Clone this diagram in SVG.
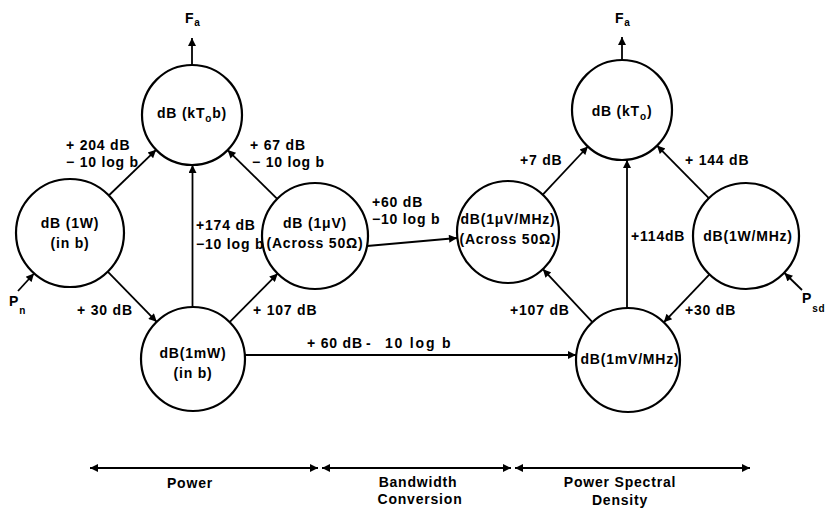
<svg xmlns="http://www.w3.org/2000/svg" width="829" height="509" viewBox="0 0 829 509">
<style>
text{font-family:"Liberation Sans",Arial,sans-serif;font-weight:bold;font-size:14px;letter-spacing:0.8px;fill:#000}
.c{text-anchor:middle}
.n circle{fill:#fff;stroke:#000;stroke-width:2.2}
.e line{stroke:#000;stroke-width:1.8;fill:none}
.ax{stroke-width:2.2}
.sub{font-size:10px}
</style>
<defs>
<marker id="ah" viewBox="0 0 10 10" refX="10" refY="5" markerWidth="10" markerHeight="8" markerUnits="userSpaceOnUse" orient="auto-start-reverse">
<path d="M0,0 L10,5 L0,10 z" fill="#000"/>
</marker>
</defs>
<g id="connectors" class="e">
<line x1="108.8" y1="195.5" x2="156.1" y2="149.8" marker-end="url(#ah)"/>
<line x1="277.2" y1="198.8" x2="227.6" y2="150.1" marker-end="url(#ah)"/>
<line x1="192.5" y1="307" x2="192.5" y2="165" marker-end="url(#ah)"/>
<line x1="107.7" y1="271.7" x2="156.7" y2="321.8" marker-end="url(#ah)"/>
<line x1="229.6" y1="322.1" x2="277.7" y2="273.6" marker-end="url(#ah)"/>
<line x1="18" y1="291" x2="34" y2="273.5" marker-end="url(#ah)"/>
<line x1="192" y1="65" x2="192" y2="38" marker-end="url(#ah)"/>
<line x1="367" y1="246" x2="457" y2="238" marker-end="url(#ah)"/>
<line x1="245" y1="355" x2="576" y2="355" marker-end="url(#ah)"/>
<line x1="542.8" y1="194.7" x2="587.9" y2="146.5" marker-end="url(#ah)"/>
<line x1="708.8" y1="198.2" x2="657" y2="145.6" marker-end="url(#ah)"/>
<line x1="627" y1="308" x2="627" y2="160" marker-end="url(#ah)"/>
<line x1="592.4" y1="322.1" x2="542.9" y2="269.2" marker-end="url(#ah)"/>
<line x1="709.5" y1="274.4" x2="663.8" y2="322.3" marker-end="url(#ah)"/>
<line x1="802" y1="290" x2="784.5" y2="273" marker-end="url(#ah)"/>
<line x1="622" y1="60" x2="622" y2="37" marker-end="url(#ah)"/>
<line class="ax" x1="90" y1="468" x2="318" y2="468" marker-start="url(#ah)" marker-end="url(#ah)"/>
<line class="ax" x1="322" y1="468" x2="511" y2="468" marker-start="url(#ah)" marker-end="url(#ah)"/>
<line class="ax" x1="515" y1="468" x2="750" y2="468" marker-start="url(#ah)" marker-end="url(#ah)"/>
</g>
<g id="n-kT0b" class="n"><circle cx="192" cy="115" r="50"/><text class="c" x="192" y="118">dB (kT<tspan class="sub" dy="4">o</tspan><tspan dy="-4">b)</tspan></text></g>
<g id="n-1W" class="n"><circle cx="70" cy="233" r="54"/><text class="c" x="70" y="228">dB (1W)</text><text class="c" x="70" y="248">(in b)</text></g>
<g id="n-1uV" class="n"><circle cx="315" cy="236" r="53"/><text class="c" x="315" y="228">dB (1μV)</text><text class="c" x="315" y="248">(Across 50Ω)</text></g>
<g id="n-1mW" class="n"><circle cx="193" cy="359" r="52"/><text class="c" x="193" y="358">dB(1mW)</text><text class="c" x="193" y="378">(in b)</text></g>
<g id="n-kT0" class="n"><circle cx="622" cy="110" r="50"/><text class="c" x="622" y="116">dB (kT<tspan class="sub" dy="4">o</tspan><tspan dy="-4">)</tspan></text></g>
<g id="n-1uVMHz" class="n"><circle cx="508" cy="232" r="51"/><text class="c" x="508" y="224">dB(1μV/MHz)</text><text class="c" x="508" y="244">(Across 50Ω)</text></g>
<g id="n-1WMHz" class="n"><circle cx="746" cy="236" r="53"/><text class="c" x="748" y="241">dB(1W/MHz)</text></g>
<g id="n-1mVMHz" class="n"><circle cx="628" cy="360" r="52"/><text class="c" x="630" y="364">dB(1mV/MHz)</text></g>
<g id="labels">
<text x="185" y="23">F<tspan class="sub" dy="3">a</tspan></text>
<text x="615" y="23">F<tspan class="sub" dy="3">a</tspan></text>
<text x="66" y="150">+ 204 dB</text><text x="66" y="167">− 10 log b</text>
<text x="250" y="150">+ 67 dB</text><text x="252" y="167">− 10 log b</text>
<text x="196" y="230">+174 dB</text><text x="196" y="249">−10 log b</text>
<text x="372" y="207">+60 dB</text><text x="372" y="224">−10 log b</text>
<text x="77" y="315">+ 30 dB</text>
<text x="253" y="315">+ 107 dB</text>
<text y="348"><tspan x="307">+ 60 dB</tspan><tspan x="366">-</tspan><tspan x="385" letter-spacing="1.8">10 log b</tspan></text>
<text x="520" y="165">+7 dB</text>
<text x="685" y="165">+ 144 dB</text>
<text x="631" y="241">+114dB</text>
<text x="510" y="315">+107 dB</text>
<text x="685" y="315">+30 dB</text>
<text x="9" y="306">P<tspan class="sub" dy="8">n</tspan></text>
<text x="802" y="303">P<tspan class="sub" dy="9">sd</tspan></text>
<text class="c" x="190" y="488">Power</text>
<text class="c" x="418" y="487">Bandwidth</text>
<text class="c" x="420" y="504">Conversion</text>
<text class="c" x="620" y="487">Power Spectral</text>
<text class="c" x="620" y="505">Density</text>
</g>
</svg>
